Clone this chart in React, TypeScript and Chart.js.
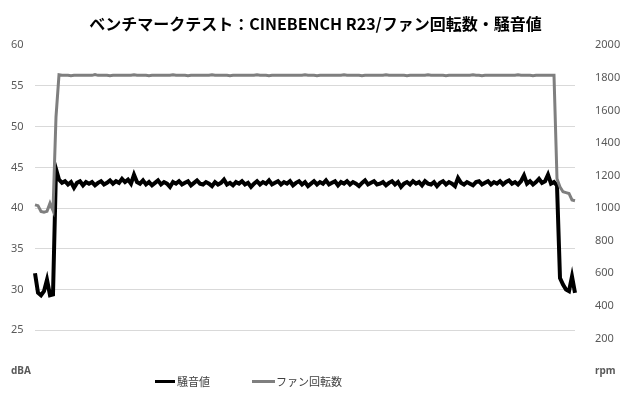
import React, { useEffect, useRef } from "react";
import Chart from "chart.js/auto";

// one sample every ~3px of the plot width
const noiseDb = [
  32.0, 29.6, 29.3, 29.8, 31.2, 29.3, 29.4, 44.8,
  43.5, 43.1, 43.3, 42.9, 43.2, 42.5, 43.1, 43.3, 42.8, 43.2,
  43.0, 43.2, 42.8, 43.1, 43.3, 42.9, 43.1, 43.4, 43.0, 43.3,
  43.1, 43.6, 43.2, 43.5, 43.0, 44.1, 43.2, 43.0, 43.4, 42.9,
  43.2, 42.8, 43.1, 43.4, 42.9, 43.2, 43.0, 42.6, 43.2, 43.0,
  43.3, 42.9, 43.1, 43.3, 42.8, 43.1, 43.4, 43.0, 42.9, 43.2,
  43.0, 42.7, 43.2, 42.9, 43.1, 43.5, 42.9, 43.1, 42.8, 43.2,
  43.0, 43.3, 42.9, 43.1, 42.6, 43.0, 43.3, 42.9, 43.2, 43.0,
  43.4, 42.9, 43.1, 43.3, 42.9, 43.2, 43.0, 43.3, 42.8, 43.1,
  43.3, 42.9, 43.2, 42.7, 43.0, 43.3, 42.9, 43.2, 43.0, 43.4,
  42.9, 43.1, 43.3, 42.8, 43.2, 43.0, 43.3, 42.9, 43.2, 43.0,
  42.7, 43.1, 43.4, 42.9, 43.1, 43.3, 42.9, 43.0, 43.2, 42.8,
  43.1, 43.3, 42.9, 43.2, 42.6, 43.0, 43.2, 42.9, 43.3, 43.0,
  43.2, 42.8, 43.3, 43.0, 42.9, 43.2, 42.7, 43.1, 43.3, 42.9,
  43.2, 43.0, 42.7, 43.7, 43.1, 42.9, 43.2, 43.0, 42.8, 43.2,
  43.3, 42.9, 43.1, 43.3, 42.9, 43.2, 43.0, 43.3, 42.9, 43.2,
  43.4, 43.0, 43.2, 42.9, 43.3, 44.0, 43.0, 43.3, 42.9, 43.2,
  43.6, 43.1, 43.3, 44.1, 43.0, 43.2,
  42.8, 31.4, 30.6, 30.0, 29.8, 31.6, 29.6,
];

const fanRpm = [
  1020, 1015, 980, 975, 980, 1030, 985, 1560,
  1818, 1815, 1815, 1815, 1812, 1815, 1815, 1815, 1815, 1815,
  1815, 1815, 1820, 1815, 1815, 1815, 1815, 1812, 1815, 1815,
  1815, 1815, 1815, 1815, 1815, 1818, 1815, 1815, 1815, 1815,
  1812, 1815, 1815, 1815, 1815, 1815, 1815, 1815, 1818, 1815,
  1815, 1815, 1815, 1812, 1815, 1815, 1815, 1815, 1815, 1815,
  1815, 1818, 1815, 1815, 1815, 1815, 1815, 1812, 1815, 1815,
  1815, 1815, 1815, 1815, 1815, 1815, 1818, 1815, 1815, 1815,
  1812, 1815, 1815, 1815, 1815, 1815, 1815, 1815, 1815, 1815,
  1815, 1815, 1818, 1815, 1815, 1815, 1812, 1815, 1815, 1815,
  1815, 1815, 1815, 1815, 1815, 1818, 1815, 1815, 1815, 1815,
  1815, 1812, 1815, 1815, 1815, 1815, 1815, 1815, 1815, 1818,
  1815, 1815, 1815, 1815, 1815, 1815, 1812, 1815, 1815, 1815,
  1815, 1815, 1815, 1818, 1815, 1815, 1815, 1815, 1815, 1812,
  1815, 1815, 1815, 1815, 1815, 1815, 1815, 1815, 1818, 1815,
  1815, 1812, 1815, 1815, 1815, 1815, 1815, 1815, 1815, 1815,
  1815, 1815, 1815, 1818, 1815, 1815, 1815, 1815, 1812, 1815,
  1815, 1815, 1815, 1815, 1815, 1815,
  1180, 1130, 1100, 1095, 1090, 1050, 1045,
];

const samples = noiseDb.map((_, i) => String(i));

const dbaTicks = [20, 25, 30, 35, 40, 45, 50, 55, 60];
const rpmTicks = [0, 200, 400, 600, 800, 1000, 1200, 1400, 1600, 1800, 2000];

const titleText = "ベンチマークテスト：CINEBENCH R23/ファン回転数・騒音値";
const noiseLabel = "騒音値";
const fanLabel = "ファン回転数";

const GRAY_TEXT = "#595959";
const FONT = "'Noto Sans', 'Noto Sans CJK JP', sans-serif";

const App: React.FC = () => {
  const canvasRef = useRef<HTMLCanvasElement | null>(null);
  const chartRef = useRef<Chart | null>(null);

  useEffect(() => {
    if (!canvasRef.current) return;
    const ctx = canvasRef.current.getContext("2d");
    if (!ctx) return;

    if (chartRef.current) chartRef.current.destroy();

    const unitFont = { family: FONT, size: 10, weight: "bold" as const };
    const tickFont = { family: FONT, size: 11 };

    chartRef.current = new Chart(ctx, {
      type: "line",
      data: {
        labels: samples,
        datasets: [
          {
            label: noiseLabel,
            data: noiseDb,
            yAxisID: "yDb",
            borderColor: "#000000",
            borderWidth: 4,
            pointRadius: 0,
            tension: 0,
            order: 1,
          },
          {
            label: fanLabel,
            data: fanRpm,
            yAxisID: "yRpm",
            borderColor: "#7f7f7f",
            borderWidth: 3,
            pointRadius: 0,
            tension: 0,
            order: 0,
          },
        ],
      },
      options: {
        animation: false,
        responsive: true,
        maintainAspectRatio: false,
        layout: { padding: { left: 11, right: 0, top: 0, bottom: 29 } },
        plugins: {
          legend: { display: false },
          tooltip: { enabled: false },
          title: {
            display: true,
            text: titleText,
            color: "#000000",
            font: {
              family: "'Noto Sans CJK JP', sans-serif",
              size: 16,
              weight: "bold",
              lineHeight: 1.2,
            },
            padding: { top: 14, bottom: 12 },
          },
        },
        scales: {
          x: { display: false, offset: false },
          yDb: {
            position: "left",
            min: 20,
            max: 60,
            afterBuildTicks: (scale) => {
              scale.ticks = dbaTicks.map((v) => ({ value: v }));
            },
            afterFit: (scale) => {
              scale.width = 24;
            },
            border: { display: false },
            grid: {
              drawTicks: false,
              lineWidth: 1,
              color: (c) =>
                c.tick && (c.tick.value === 20 || c.tick.value === 60)
                  ? "rgba(0,0,0,0)"
                  : "#d9d9d9",
            },
            ticks: {
              crossAlign: "far",
              color: GRAY_TEXT,
              font: (c) => (c.tick && c.tick.value === 20 ? unitFont : tickFont),
              callback: (v) => (v === 20 ? "dBA" : String(v)),
            },
          },
          yRpm: {
            position: "right",
            min: 0,
            max: 2000,
            afterBuildTicks: (scale) => {
              scale.ticks = rpmTicks.map((v) => ({ value: v }));
            },
            afterFit: (scale) => {
              scale.width = 45;
            },
            border: { display: false },
            grid: { display: false },
            ticks: {
              padding: 12,
              color: GRAY_TEXT,
              font: (c) => (c.tick && c.tick.value === 0 ? unitFont : tickFont),
              callback: (v) => (v === 0 ? "rpm" : String(v)),
            },
          },
        },
      },
    });

    return () => {
      if (chartRef.current) {
        chartRef.current.destroy();
        chartRef.current = null;
      }
    };
  }, []);

  const legendText: React.CSSProperties = {
    position: "absolute",
    top: 373,
    fontFamily: "'Noto Sans CJK JP', sans-serif",
    fontSize: 11,
    lineHeight: "16px",
    color: "#404040",
  };

  return (
    <div
      style={{
        position: "fixed",
        left: 0,
        top: 0,
        width: 620,
        height: 400,
        background: "#ffffff",
      }}
    >
      <canvas ref={canvasRef}></canvas>
      <div style={{ position: "absolute", left: 155, top: 380, width: 20, height: 3, background: "#000000" }} />
      <div style={{ ...legendText, left: 177 }}>{noiseLabel}</div>
      <div style={{ position: "absolute", left: 252, top: 380, width: 23, height: 3, background: "#7f7f7f" }} />
      <div style={{ ...legendText, left: 276 }}>{fanLabel}</div>
    </div>
  );
};

export default App;
